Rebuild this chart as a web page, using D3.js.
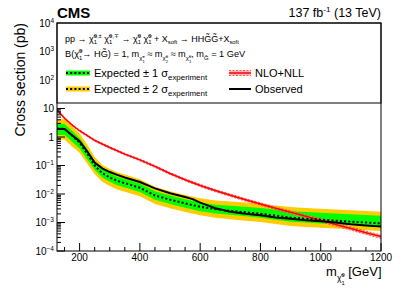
<!DOCTYPE html>
<html>
<head>
<meta charset="utf-8">
<script src="https://cdn.jsdelivr.net/npm/d3@7"></script>
<style>
  body { margin: 0; background: #fff; }
  svg { display: block; }
  text { font-family: "Liberation Sans", Arial, Helvetica, sans-serif; fill: #000; white-space: pre; }
</style>
</head>
<body>
<svg id="chart" width="407" height="292"></svg>
<script>
// mass points (GeV) for the expected limit and its bands
const mass = [125, 150, 175, 200, 225, 250, 275, 300, 325, 350, 400, 450, 500, 550, 600, 650, 700, 750, 800, 850, 900, 950, 1000, 1050, 1100, 1150, 1200];
const expected = [1.95, 1.95, 1.12, 0.63, 0.263, 0.1, 0.054, 0.038, 0.0288, 0.024, 0.0166, 0.0089, 0.0063, 0.0047, 0.00355, 0.00295, 0.00257, 0.00229, 0.00204, 0.00174, 0.00148, 0.00135, 0.00126, 0.00116, 0.00107, 0.001, 0.00093];
const plus1 = [2.88, 2.88, 1.66, 0.912, 0.38, 0.141, 0.0759, 0.0537, 0.0407, 0.0339, 0.0234, 0.0126, 0.0089, 0.0066, 0.005, 0.00417, 0.0039, 0.00355, 0.00324, 0.00285, 0.00251, 0.00232, 0.00219, 0.00207, 0.00195, 0.00184, 0.00174];
const plus2 = [4.17, 4.17, 2.4, 1.32, 0.55, 0.2, 0.107, 0.0759, 0.0575, 0.0479, 0.0331, 0.0178, 0.0126, 0.0093, 0.0071, 0.0059, 0.0055, 0.005, 0.00457, 0.00398, 0.00347, 0.0032, 0.00302, 0.00285, 0.00269, 0.00254, 0.0024];
const minus1 = [1.17, 1.17, 0.676, 0.398, 0.166, 0.0708, 0.038, 0.0269, 0.0204, 0.017, 0.0117, 0.0063, 0.00447, 0.0033, 0.0025, 0.00209, 0.00186, 0.00166, 0.00148, 0.00126, 0.00107, 0.00099, 0.00093, 0.00087, 0.00081, 0.00076, 0.00071];
const minus2 = [0.81, 0.81, 0.468, 0.282, 0.117, 0.05, 0.0269, 0.0191, 0.0145, 0.012, 0.0083, 0.00447, 0.00316, 0.00234, 0.00178, 0.00148, 0.00129, 0.00116, 0.00105, 0.00089, 0.00076, 0.0007, 0.00066, 0.00062, 0.00058, 0.00054, 0.0005];

// observed limit
const obsMass = [125, 150, 175, 200, 225, 250, 275, 300, 325, 350, 400, 450, 500, 550, 575, 600, 625, 650, 700, 750, 800, 850, 900, 950, 1000, 1050, 1100, 1150, 1200];
const observed = [1.9, 1.9, 1.15, 0.71, 0.316, 0.126, 0.079, 0.059, 0.047, 0.038, 0.0263, 0.0158, 0.0107, 0.0079, 0.0066, 0.005, 0.004, 0.00316, 0.0024, 0.00204, 0.00178, 0.00151, 0.00135, 0.0012, 0.0011, 0.001, 0.00087, 0.00079, 0.00072];

// NLO+NLL theory cross section and its relative uncertainty
const nloMass = [125, 150, 175, 200, 250, 300, 350, 400, 450, 500, 550, 600, 650, 700, 750, 800, 850, 900, 950, 1000, 1050, 1100, 1150, 1200];
const nlo = [9.1, 4.57, 2.63, 1.66, 0.76, 0.427, 0.251, 0.158, 0.093, 0.0525, 0.0316, 0.02, 0.0132, 0.0091, 0.0063, 0.00447, 0.00316, 0.00229, 0.00166, 0.0012, 0.00085, 0.00062, 0.00044, 0.00032];
const nloUnc = [0.06, 0.06, 0.06, 0.06, 0.065, 0.07, 0.07, 0.075, 0.08, 0.08, 0.085, 0.09, 0.09, 0.095, 0.1, 0.1, 0.105, 0.11, 0.11, 0.12, 0.12, 0.13, 0.13, 0.14];

// axis ticks
const xMajor = [200, 400, 600, 800, 1000, 1200];
const yExponents = [-4, -3, -2, -1, 0, 1, 2, 3, 4];

const svg = d3.select("#chart");
const frame = {left: 57, right: 381, top: 23, bottom: 251};

const x = d3.scaleLinear().domain([125, 1200]).range([frame.left, frame.right]);
const y = d3.scaleLog().domain([1e-4, 1e4]).range([frame.bottom, frame.top]);

// little helper for ROOT-like latex text (sub/superscripts)
// each part: [text, sizeFactor, dy (in em), hold]  hold = don't advance (stacked sup/sub)
function rich(parent, x0, y0, parts, size, align) {
  const g = parent.append("g");
  let cx = 0, held = 0;
  parts.forEach(p => {
    const [txt, k, dy, hold] = p;
    const t = g.append("text")
      .attr("x", cx)
      .attr("y", dy * size)
      .style("font-size", (size * k) + "px")
      .text(txt);
    const w = t.node().getComputedTextLength();
    if (hold) held = Math.max(held, w);
    else { cx += Math.max(w, held); held = 0; }
  });
  const off = align === "end" ? -cx : align === "middle" ? -cx / 2 : 0;
  g.attr("transform", `translate(${x0 + off},${y0})`);
  return g;
}
const N = t => [t, 1, 0];
const SUP = (t, hold) => [t, 0.65, -0.4, hold];
const SUB = t => [t, 0.65, 0.3];

// clip to plot frame
svg.append("clipPath").attr("id", "clip")
  .append("rect")
  .attr("x", frame.left).attr("y", frame.top)
  .attr("width", frame.right - frame.left).attr("height", frame.bottom - frame.top);

const plot = svg.append("g").attr("clip-path", "url(#clip)");

const band = (lo, hi) => d3.area()
  .x((d, i) => x(mass[i]))
  .y0((d, i) => y(lo[i]))
  .y1((d, i) => y(hi[i]));

plot.append("path").datum(mass).attr("d", band(minus2, plus2)).attr("fill", "#ffcc00");
plot.append("path").datum(mass).attr("d", band(minus1, plus1)).attr("fill", "#00ff00");

// theory band
plot.append("path").datum(nloMass)
  .attr("d", d3.area()
    .x(d => x(d))
    .y0((d, i) => y(nlo[i] * (1 - nloUnc[i])))
    .y1((d, i) => y(nlo[i] * (1 + nloUnc[i]))))
  .attr("fill", "#ff9a9a").attr("opacity", 0.7);
[-1, 1].forEach(s => {
  plot.append("path").datum(nloMass)
    .attr("d", d3.line().x(d => x(d)).y((d, i) => y(nlo[i] * (1 + s * nloUnc[i]))))
    .attr("fill", "none").attr("stroke", "#ff3333").attr("stroke-width", 0.8)
    .attr("stroke-dasharray", "2,1.5");
});
plot.append("path").datum(nloMass)
  .attr("d", d3.line().x(d => x(d)).y((d, i) => y(nlo[i])))
  .attr("fill", "none").attr("stroke", "#ff0000").attr("stroke-width", 1.5);

// expected (dotted) and observed
plot.append("path").datum(mass)
  .attr("d", d3.line().x(d => x(d)).y((d, i) => y(expected[i])))
  .attr("fill", "none").attr("stroke", "#000").attr("stroke-width", 2)
  .attr("stroke-dasharray", "2,2.2");
plot.append("path").datum(obsMass)
  .attr("d", d3.line().x(d => x(d)).y((d, i) => y(observed[i])))
  .attr("fill", "none").attr("stroke", "#000").attr("stroke-width", 2);

// ticks (ROOT style: inside the frame)
const ticks = svg.append("g").attr("stroke", "#000").attr("stroke-width", 1);
for (let m = 150; m <= 1200; m += 50) {
  const major = xMajor.includes(m);
  ticks.append("line")
    .attr("x1", x(m)).attr("x2", x(m))
    .attr("y1", frame.bottom).attr("y2", frame.bottom - (major ? 8 : 4));
}
yExponents.slice(0, -1).forEach(e => {
  for (let k = 1; k <= 9; k++) {
    const v = k * Math.pow(10, e);
    ticks.append("line")
      .attr("x1", frame.left).attr("x2", frame.left + (k === 1 ? 8 : 4))
      .attr("y1", y(v)).attr("y2", y(v));
  }
});

// x tick labels
xMajor.forEach(m => {
  svg.append("text")
    .attr("x", x(m)).attr("y", frame.bottom + 9.5)
    .attr("text-anchor", "middle")
    .style("font-size", "10px")
    .text(m);
});

// y tick labels
yExponents.forEach(e => {
  const yy = y(Math.pow(10, e)) + 3.5;
  let parts;
  if (e === 0) parts = [N("1")];
  else if (e === 1) parts = [N("10")];
  else parts = [N("10"), SUP(e < 0 ? "\u2212" + (-e) : String(e))];
  rich(svg, 54, yy, parts, 10, "end");
});

// legend box (covers top of the frame)
svg.append("rect")
  .attr("x", frame.left).attr("y", frame.top)
  .attr("width", frame.right - frame.left).attr("height", 80)
  .attr("fill", "#fff").attr("stroke", "#000").attr("stroke-width", 1);

// frame
svg.append("rect")
  .attr("x", frame.left).attr("y", frame.top)
  .attr("width", frame.right - frame.left).attr("height", frame.bottom - frame.top)
  .attr("fill", "none").attr("stroke", "#000").attr("stroke-width", 1);

// legend header lines
const chi = "\u03C7\u0303";
rich(svg, 65, 41.5, [
  N("pp \u2192 " + chi), SUP("0,\u00B1", 1), SUB("1"),
  N(" " + chi), SUP("0,\u2213", 1), SUB("1"),
  N(" \u2192 " + chi), SUP("0", 1), SUB("1"),
  N(" " + chi), SUP("0", 1), SUB("1"),
  N(" + X"), SUB("soft"),
  N(" \u2192 HHG\u0303G\u0303+X"), SUB("soft")
], 9);

rich(svg, 65, 57, [
  N("B(" + chi), SUP("0", 1), SUB("1"),
  N("\u2192 HG\u0303) = 1, m"), [chi, 0.65, 0.35], ["\u00B1", 0.45, 0.1, 1], ["1", 0.45, 0.65],
  N(" \u2248 m"), [chi, 0.65, 0.35], ["0", 0.45, 0.1, 1], ["2", 0.45, 0.65],
  N(" \u2248 m"), [chi, 0.65, 0.35], ["0", 0.45, 0.1, 1], ["1", 0.45, 0.65],
  N(", m"), ["G\u0303", 0.65, 0.35],
  N(" = 1 GeV")
], 9.2);

// legend entries
const leg = svg.append("g");
function bandSymbol(yc, color) {
  leg.append("rect").attr("x", 66).attr("y", yc - 2.5).attr("width", 24).attr("height", 5).attr("fill", color);
  leg.append("line").attr("x1", 66).attr("x2", 90).attr("y1", yc).attr("y2", yc)
    .attr("stroke", "#000").attr("stroke-width", 2).attr("stroke-dasharray", "2,2.2");
}
bandSymbol(73, "#00ff00");
bandSymbol(89, "#ffcc00");
rich(leg, 94, 77, [N("Expected \u00B1 1 \u03C3"), ["experiment", 0.72, 0.3]], 11);
rich(leg, 94, 93, [N("Expected \u00B1 2 \u03C3"), ["experiment", 0.72, 0.3]], 11);

leg.append("rect").attr("x", 229).attr("y", 70.5).attr("width", 22).attr("height", 5).attr("fill", "#ff9a9a").attr("opacity", 0.7);
[70.5, 75.5].forEach(yy => leg.append("line").attr("x1", 229).attr("x2", 251).attr("y1", yy).attr("y2", yy)
  .attr("stroke", "#ff3333").attr("stroke-width", 0.8).attr("stroke-dasharray", "2,1.5"));
leg.append("line").attr("x1", 229).attr("x2", 251).attr("y1", 73).attr("y2", 73)
  .attr("stroke", "#ff0000").attr("stroke-width", 1.5);
leg.append("text").attr("x", 255).attr("y", 77).style("font-size", "11px").text("NLO+NLL");

leg.append("line").attr("x1", 229).attr("x2", 251).attr("y1", 89).attr("y2", 89)
  .attr("stroke", "#000").attr("stroke-width", 2);
leg.append("text").attr("x", 255).attr("y", 93).style("font-size", "11px").text("Observed");

// CMS label and lumi
svg.append("text").attr("x", 57).attr("y", 18)
  .style("font-size", "15px").style("font-weight", "bold").text("CMS");
rich(svg, 381, 17, [N("137 fb"), SUP("-1"), N(" (13 TeV)")], 12.5, "end");

// axis titles
svg.append("text")
  .attr("transform", `translate(25,${frame.top}) rotate(-90)`)
  .attr("text-anchor", "end")
  .style("font-size", "14px")
  .text("Cross section (pb)");

rich(svg, 381.5, 276, [
  N("m"), [chi, 0.65, 0.35], ["0", 0.45, 0.05, 1], ["1", 0.45, 0.7],
  N(" [GeV]")
], 13, "end");
</script>
</body>
</html>
